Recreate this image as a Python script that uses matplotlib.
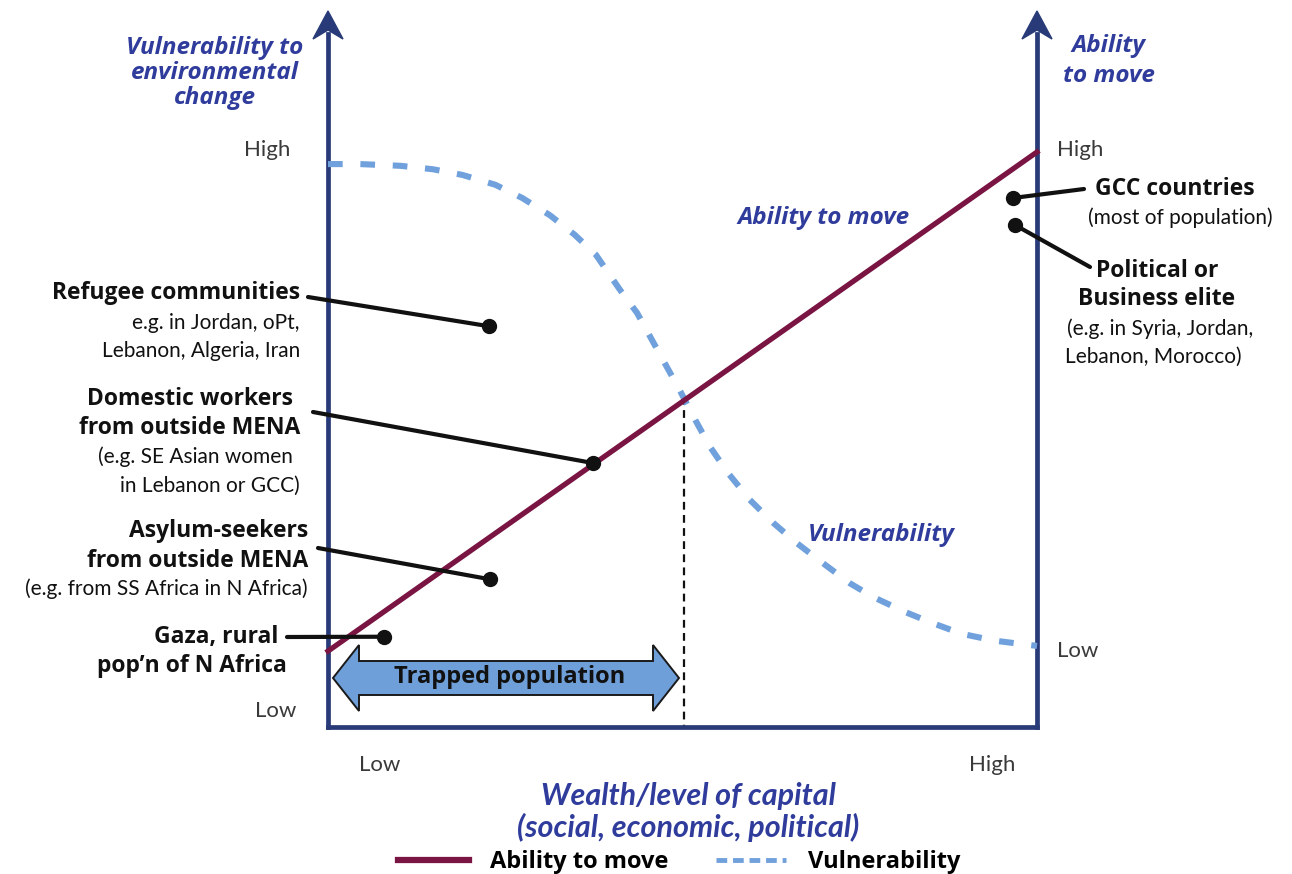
import matplotlib.pyplot as plt
from matplotlib.transforms import Affine2D
from matplotlib.patches import Polygon, ConnectionPatch
from matplotlib.lines import Line2D

W, H = 1292, 874
NAVY, MAROON, LBLUE, TBLUE, INK = '#283b78', '#7a1442', '#70a1dc', '#2f3c9c', '#111111'
FONT, HEAVY = 'Lato', 'Open Sans'

# wealth (0-100) against level (0-100) for the two curves
wealth = [0, 100]
ability = [13.2, 100]
vuln_x = [0, 4.5, 10.2, 14.8, 19.0, 23.6, 27.4, 31.3, 34.8, 37.8, 41.2, 43.6, 45.7, 47.8, 49.6,
          51.8, 53.9, 56.4, 59.5, 62.8, 66.1, 69.8, 73.6, 76.9, 81.4, 85.2, 89.4, 94.1, 100]
vuln_y = [97.9, 97.9, 97.6, 97.0, 96.0, 94.3, 92.0, 89.0, 85.6, 82.1, 76.0, 72.0, 67.3, 62.6, 58.6,
          53.4, 48.7, 44.2, 39.5, 35.5, 32.0, 28.5, 25.0, 22.6, 20.0, 18.1, 16.2, 15.0, 14.1]
threshold_x, threshold_y = 50.2, 57.4

groups = ['Refugee', 'Domestic', 'Asylum', 'Gaza', 'GCC', 'Elite']
group_x = [22.7, 37.4, 22.8, 7.9, 96.6, 96.9]
group_y = [69.7, 45.9, 25.7, 15.7, 92.0, 87.3]

fig = plt.figure(figsize=(W / 100, H / 100), dpi=100)
px = Affine2D().scale(1 / W, -1 / H).translate(0, 1) + fig.transFigure  # pixel coords, top-left origin
ax = fig.add_axes([328 / W, 1 - 727 / H, 709 / W, 715 / H])
ax.set_xlim(0, 100); ax.set_ylim(0, 715 / 5.75); ax.axis('off')

# axes frame with arrows
for xs, ys in [([328, 328], [727, 34]), ([1037, 1037], [727, 34]), ([328, 1037], [727, 727])]:
    ax.plot(xs, ys, transform=px, color=NAVY, lw=3.4, clip_on=False, solid_capstyle='projecting')
for x0 in (328, 1037):
    ax.add_patch(Polygon([(x0, 11), (x0 - 15, 39), (x0, 30), (x0 + 15, 39)], closed=True,
                         transform=px, color=NAVY, clip_on=False))

ax.plot(wealth, ability, color=MAROON, lw=3.8, clip_on=False, label='Ability to move', zorder=3)
ax.plot(vuln_x, vuln_y, color=LBLUE, lw=4.4, ls=(0, (2.4, 2.9)), clip_on=False, label='Vulnerability', zorder=2)
ax.plot([threshold_x, threshold_x], [threshold_y, 0], color=INK, lw=1.6, ls=(0, (3.5, 2.4)), zorder=1)

# trapped population arrow
ax.add_patch(Polygon([(333, 678), (359, 645), (359, 661), (653, 661), (653, 645), (679, 678),
                      (653, 711), (653, 695), (359, 695), (359, 711)], closed=True, transform=px,
                     facecolor='#6f9fd9', edgecolor='#1a1a1a', lw=1.4, clip_on=False, zorder=4))
fig.text(510, 677, 'Trapped population', transform=px, ha='center', va='center',
         family=HEAVY, weight='bold', fontsize=17, color=INK)

# leaders and dots
starts = [(308, 297), (313, 412), (318, 548), (287, 637), (1084, 189), (1090, 267)]
for (sx, sy), gx, gy in zip(starts, group_x, group_y):
    fig.add_artist(ConnectionPatch((sx, sy), (gx, gy), coordsA=px, coordsB=ax.transData,
                                   color=INK, lw=3, zorder=5))
ax.plot(group_x, group_y, 'o', color=INK, ms=10, clip_on=False, zorder=6)

def t(x, y, s, ha='right', bold=False, **kw):
    fig.text(x, y, s, transform=px, ha=ha, va='center', family=HEAVY if bold else FONT,
             weight='bold' if bold else 'normal', fontsize=16.5 if bold else 15, color=INK, **kw)

t(300, 293, 'Refugee communities', bold=True)
t(300, 323, 'e.g. in Jordan, oPt,')
t(300, 351, 'Lebanon, Algeria, Iran')
t(293, 399, 'Domestic workers', bold=True)
t(300, 428, 'from outside MENA', bold=True)
t(293, 457, '(e.g. SE Asian women')
t(300, 486, 'in Lebanon or GCC)')
t(308, 531, 'Asylum-seekers', bold=True)
t(308, 561, 'from outside MENA', bold=True)
t(308, 589, '(e.g. from SS Africa in N Africa)')
t(278, 637, 'Gaza, rural', bold=True)
t(287, 666, 'pop\u2019n of N Africa', bold=True)
t(1175, 189, 'GCC countries', ha='center', bold=True)
t(1180, 218, '(most of population)', ha='center')
t(1157, 271, 'Political or', ha='center', bold=True)
t(1157, 299, 'Business elite', ha='center', bold=True)
t(1160, 329, '(e.g. in Syria, Jordan,', ha='center')
t(1153, 357, 'Lebanon, Morocco)', ha='center')

# level labels
for x, y, s, ha in [(290, 150, 'High', 'right'), (296, 711, 'Low', 'right'), (1057, 150, 'High', 'left'),
                    (1057, 651, 'Low', 'left'), (380, 765, 'Low', 'center'), (992, 765, 'High', 'center')]:
    fig.text(x, y, s, transform=px, ha=ha, va='center', family=FONT, weight='normal',
             fontsize=16, color='#3a3a3a')

def blue(x, y, s, ha='left', size=17.5, ls=1.2, family=HEAVY, weight='bold'):
    fig.text(x, y, s, transform=px, ha=ha, va='center', family=family, weight=weight, style='italic',
             fontsize=size, color=TBLUE, linespacing=ls, multialignment='center')

blue(215, 73, 'Vulnerability to\nenvironmental\nchange', ha='center', ls=1.03)
blue(1063, 61, 'Ability\nto move', ls=1.3)
blue(737, 218, 'Ability to move')
blue(808, 535, 'Vulnerability')
blue(688, 812, 'Wealth/level of capital\n(social, economic, political)', ha='center', size=22, ls=1.08,
     family=FONT)

handles = [Line2D([], [], color=MAROON, lw=4.5), Line2D([], [], color=LBLUE, lw=3.5, ls=(0, (2.2, 1.2)))]
fig.legend(handles, ['Ability to move', 'Vulnerability'], loc='center', bbox_to_anchor=(679, 862),
           bbox_transform=px, ncol=2, frameon=False, handlelength=3.0, handletextpad=0.9,
           columnspacing=2.0, prop=dict(family=HEAVY, weight='bold', size=17))

fig.savefig('out.png', dpi=100)
